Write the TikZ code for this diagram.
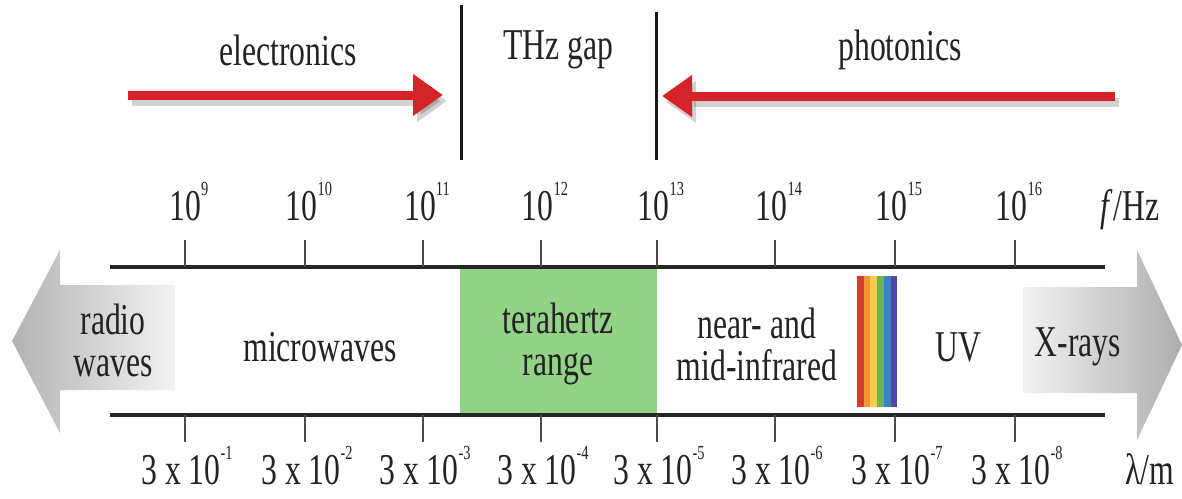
\documentclass[tikz,border=0pt]{standalone}
\usepackage{fontspec}
\setmainfont[FakeStretch=0.72]{Liberation Serif}
\usetikzlibrary{arrows.meta}
\definecolor{txt}{RGB}{35,35,35}
\definecolor{thzgreen}{RGB}{148,210,136}
\definecolor{arrred}{RGB}{212,36,42}
\definecolor{rbA}{RGB}{214,62,44}
\definecolor{rbB}{RGB}{240,150,50}
\definecolor{rbC}{RGB}{244,208,72}
\definecolor{rbD}{RGB}{112,180,82}
\definecolor{rbE}{RGB}{62,130,198}
\definecolor{rbF}{RGB}{84,70,168}
\newcommand\supx[1]{\raisebox{0.55em}{\fontsize{20}{20}\selectfont #1}}
\tikzset{
  lbl/.style={text=txt, font=\fontsize{44}{42}\selectfont, inner sep=0pt, align=center},
  axisline/.style={line width=4.5pt, draw=black!85},
  tickline/.style={line width=2.5pt, draw=black!70},
  sepline/.style={line width=3pt, draw=black!90},
  redarrow/.style={line width=9pt, draw=arrred, -{Triangle[length=30pt,width=40pt]}},
  shadowarrow/.style={line width=9pt, draw=black, opacity=0.18, -{Triangle[length=30pt,width=40pt]}},
}
\begin{document}
\begin{tikzpicture}[x=1pt,y=-1pt]
\useasboundingbox (0,0) rectangle (1182,498);
\fill[white] (0,0) rectangle (1182,498);

% top titles
\node[lbl] (elec) at (288,50) {electronics};
\node[lbl] (gap) at (558,50) {THz gap};
\node[lbl] (phot) at (900,50) {photonics};

% separators
\coordinate (s1a) at (461,5);  \coordinate (s1b) at (461,160);
\coordinate (s2a) at (656,12); \coordinate (s2b) at (656,160);
\draw[sepline] (s1a) -- (s1b);
\draw[sepline] (s2a) -- (s2b);

% red arrows
\coordinate (e0) at (128,95); \coordinate (e1) at (443,95);
\coordinate (p0) at (1115,96); \coordinate (p1) at (662,96);
\draw[shadowarrow] ([shift={(4,6)}]e0) -- ([shift={(4,6)}]e1);
\draw[shadowarrow] ([shift={(4,6)}]p0) -- ([shift={(4,6)}]p1);
\draw[redarrow] (e0) -- (e1);
\draw[redarrow] (p0) -- (p1);

% grey arrows
\shade[left color=black!30, right color=black!5]
  (12,341) -- (60,250) -- (60,285) -- (175,285) -- (175,390) -- (60,390) -- (60,433) -- cycle;
\shade[left color=black!5, right color=black!32]
  (1182,345) -- (1137,250) -- (1137,287) -- (1023,287) -- (1023,393) -- (1137,393) -- (1137,440) -- cycle;

% terahertz range box
\fill[thzgreen] (460,267) rectangle (657,413);

% rainbow
\foreach \c [count=\i from 0] in {rbA,rbB,rbC,rbD,rbE,rbF}
  \fill[\c] (857+\i*6.7,276) rectangle (857+\i*6.7+6.9,407);

% axes
\coordinate (ta) at (110,267); \coordinate (tb) at (1105,267);
\coordinate (ba) at (110,415); \coordinate (bb) at (1105,415);
\draw[axisline] (ta) -- (tb);
\draw[axisline] (ba) -- (bb);

\foreach \x/\e/\w [count=\i] in {185/9/1,305/10/2,423/11/3,541/12/4,657/13/5,775/14/6,895/15/7,1015/16/8}{
  \coordinate (tt\i) at (\x,240);
  \coordinate (tu\i) at (\x,267);
  \coordinate (bt\i) at (\x,415);
  \coordinate (bu\i) at (\x,442);
  \draw[tickline] (tt\i) -- (tu\i);
  \draw[tickline] (bt\i) -- (bu\i);
  \node[lbl, anchor=base] (f\i) at (\x+4,220) {10\supx{\e}};
  \node[lbl, anchor=base] (w\i) at (\x+2,484) {3 x 10\supx{-\w}};
}
\node[lbl, anchor=base] (fhz) at (1130,220) {\textit{f}/Hz};
\node[lbl, anchor=base] (lm) at (1150,484) {λ/m};

% region labels
\node[lbl] (radio) at (113,340) {radio\\waves};
\node[lbl] (micro) at (320,347) {microwaves};
\node[lbl] (thz) at (558,344) {terahertz\\range};
\node[lbl] (ir) at (757,344) {near- and\\mid-infrared};
\node[lbl] (uv) at (958,347) {UV};
\node[lbl] (xray) at (1078,347) {X-rays};
\end{tikzpicture}
\end{document}
